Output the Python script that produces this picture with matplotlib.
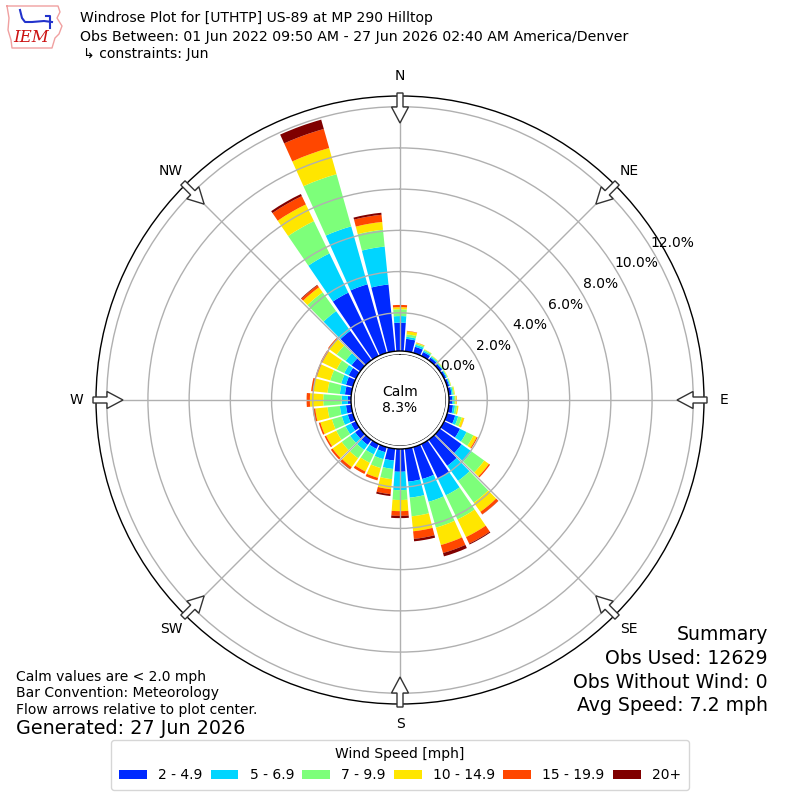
import numpy as np
import matplotlib
matplotlib.use("Agg")
import matplotlib.pyplot as plt
from matplotlib.patches import Patch, Polygon, Circle

# wind direction bins (degrees, meteorological)
directions = np.arange(0, 360, 10)
speed_labels = ['2 - 4.9', '5 - 6.9', '7 - 9.9', '10 - 14.9', '15 - 19.9', '20+']

# frequency [%] per direction for each speed bin
spd_2_5 = [1.52, 0.75, 0.45, 0.35, 0.30, 0.28, 0.25, 0.25, 0.28, 0.30, 0.35, 0.55,
           1.00, 1.45, 1.70, 2.00, 1.75, 1.75, 1.25, 0.72, 0.40, 0.40, 0.45, 0.45,
           0.40, 0.40, 0.40, 0.30, 0.45, 0.49, 0.53, 0.66, 1.90, 3.55, 3.60, 3.40]
spd_5_7 = [0.32, 0.10, 0.10, 0.07, 0.06, 0.04, 0.05, 0.05, 0.06, 0.08, 0.10, 0.15,
           0.35, 0.60, 0.90, 0.90, 1.15, 0.78, 0.89, 0.41, 0.35, 0.30, 0.30, 0.30,
           0.30, 0.30, 0.30, 0.30, 0.25, 0.24, 0.24, 0.36, 1.18, 2.11, 2.92, 1.85]
spd_7_10 = [0.33, 0.12, 0.07, 0.06, 0.04, 0.04, 0.03, 0.03, 0.06, 0.08, 0.10, 0.18,
            0.37, 0.75, 1.30, 1.30, 1.30, 0.91, 0.48, 0.50, 0.45, 0.45, 0.50, 0.50,
            0.50, 0.50, 0.60, 0.89, 0.60, 0.55, 0.41, 0.53, 1.12, 1.74, 2.63, 0.82]
spd_10_15 = [0.10, 0.15, 0.04, 0.02, 0.02, 0.02, 0.02, 0.02, 0.04, 0.06, 0.07, 0.12,
             0.18, 0.28, 0.55, 0.95, 0.88, 0.73, 0.54, 0.49, 0.49, 0.47, 0.53, 0.55,
             0.55, 0.58, 0.60, 0.65, 0.70, 0.67, 0.77, 0.45, 0.30, 0.90, 1.32, 0.38]
spd_15_20 = [0.11, 0.02, 0.01, 0.00, 0.00, 0.00, 0.00, 0.00, 0.00, 0.01, 0.00, 0.01,
             0.05, 0.07, 0.15, 0.35, 0.40, 0.37, 0.23, 0.24, 0.13, 0.13, 0.12, 0.10,
             0.08, 0.08, 0.12, 0.16, 0.10, 0.07, 0.09, 0.07, 0.12, 0.45, 0.96, 0.35]
spd_20p = [0.00, 0.00, 0.00, 0.00, 0.00, 0.00, 0.00, 0.00, 0.00, 0.00, 0.00, 0.00,
           0.00, 0.00, 0.01, 0.05, 0.17, 0.12, 0.11, 0.09, 0.00, 0.00, 0.02, 0.00,
           0.00, 0.00, 0.00, 0.00, 0.00, 0.00, 0.00, 0.00, 0.03, 0.11, 0.47, 0.10]
speed_bins = [spd_2_5, spd_5_7, spd_7_10, spd_10_15, spd_15_20, spd_20p]

calm_pct = 8.3
ring_ticks = [0, 2, 4, 6, 8, 10, 12]
compass = ['N', 'NE', 'E', 'SE', 'S', 'SW', 'W', 'NW']

colors = plt.cm.jet(np.arange(1, 7) / 6.0)

fig = plt.figure(figsize=(8, 8), dpi=100)
ax = fig.add_axes([0.12, 0.12, 0.76, 0.76], projection='polar')
ax.set_theta_zero_location('N')
ax.set_theta_direction(-1)

theta = np.deg2rad(directions)
width = np.deg2rad(8.6)
bottom = np.zeros(len(directions))
for vals, col in zip(speed_bins, colors):
    vals = np.array(vals)
    ax.bar(theta, vals, width=width, bottom=bottom, color=col, linewidth=0, zorder=1)
    bottom += vals

ax.set_ylim(0, 12.52)
ax.set_rorigin(-2.233)
ax.set_axisbelow(False)
ax.set_yticks(ring_ticks)
ax.set_yticklabels([])
ax.set_xticks(np.deg2rad(np.arange(0, 360, 45)))
ax.set_xticklabels([])
ax.grid(True, color='#b0b0b0', linewidth=1)
ax.spines['polar'].set_linewidth(1.0)

# ring labels
for r in ring_ticks:
    ax.text(np.deg2rad(60), r + 1.02, '%.1f%%' % r, ha='center', va='center',
            fontsize=10, clip_on=False)

# calm circle
ax.add_patch(Circle((0.5, 0.5), 49 / 608., transform=ax.transAxes, facecolor='white',
                    edgecolor='black', linewidth=1, zorder=5))
ax.text(0.5, 0.5, 'Calm\n%.1f%%' % calm_pct, transform=ax.transAxes, ha='center',
        va='center', fontsize=10, zorder=6)

# compass labels + flow arrows
shape = [(307, -3), (293, -3), (293, -8.5), (277, 0), (293, 8.5), (293, 3), (307, 3)]
for i, lab in enumerate(compass):
    h = np.deg2rad(i * 45)
    u = np.array([np.sin(h), np.cos(h)])
    p = np.array([np.cos(h), -np.sin(h)])
    pts = [0.5 + (a * u + b * p) / 608. for a, b in shape]
    ax.add_patch(Polygon(pts, closed=True, transform=ax.transAxes, facecolor='white',
                         edgecolor='#333333', linewidth=1, clip_on=False, zorder=6))
    lx, ly = 0.5 + 324 / 608. * u
    ax.text(lx, ly, lab, transform=ax.transAxes, ha='center', va='center', fontsize=10)

# header
fig.text(80 / 800, 1 - 18 / 800, 'Windrose Plot for [UTHTP] US-89 at MP 290 Hilltop',
         fontsize=10.1, va='center')
fig.text(80 / 800, 1 - 37 / 800,
         'Obs Between: 01 Jun 2022 09:50 AM - 27 Jun 2026 02:40 AM America/Denver',
         fontsize=10.15, va='center')
fig.text(83 / 800, 1 - 54 / 800, '\u21b3 constraints: Jun', fontsize=10.1, va='center')

# IEM logo (rough)
lax = fig.add_axes([0, 1 - 52 / 800, 66 / 800, 52 / 800])
lax.set_xlim(0, 66)
lax.set_ylim(52, 0)
lax.axis('off')
iowa_x = [7, 58, 60, 57, 62, 59, 55, 52, 12, 11, 8, 9, 7]
iowa_y = [6, 6, 12, 18, 26, 34, 38, 48, 48, 40, 30, 18, 6]
lax.plot(iowa_x, iowa_y, color='#f0a0a0', linewidth=1)
lax.plot([20, 22, 25, 32, 44, 52], [10, 18, 22, 22, 21, 22], color='#2233cc', linewidth=1.5)
lax.plot([46, 50, 50], [16, 16, 28], color='#2233cc', linewidth=1.5)
lax.text(31, 38, 'IEM', color='#cc1111', fontsize=12, fontstyle='italic',
         family='DejaVu Serif', ha='center', va='center')

# notes
fig.text(16 / 800, 1 - 677 / 800, 'Calm values are < 2.0 mph', fontsize=10, va='center')
fig.text(16 / 800, 1 - 693 / 800, 'Bar Convention: Meteorology', fontsize=10, va='center')
fig.text(16 / 800, 1 - 710 / 800, 'Flow arrows relative to plot center.', fontsize=10,
         va='center')
fig.text(16 / 800, 1 - 729 / 800, 'Generated: 27 Jun 2026', fontsize=13.8, va='center')

summary = ['Summary', 'Obs Used: 12629', 'Obs Without Wind: 0', 'Avg Speed: 7.2 mph']
for k, s in enumerate(summary):
    fig.text(768 / 800, 1 - (635 + 23.5 * k) / 800, s, fontsize=13.6, ha='right',
             va='center')

handles = [Patch(facecolor=c) for c in colors]
fig.legend(handles, speed_labels, ncol=6, loc='lower center',
           bbox_to_anchor=(0.5, 0.0125), borderaxespad=0, title='Wind Speed [mph]',
           fontsize=10, title_fontsize=10, handlelength=2.0, handletextpad=0.8,
           columnspacing=0.6, borderpad=0.55)

fig.savefig('out.png', dpi=100)
